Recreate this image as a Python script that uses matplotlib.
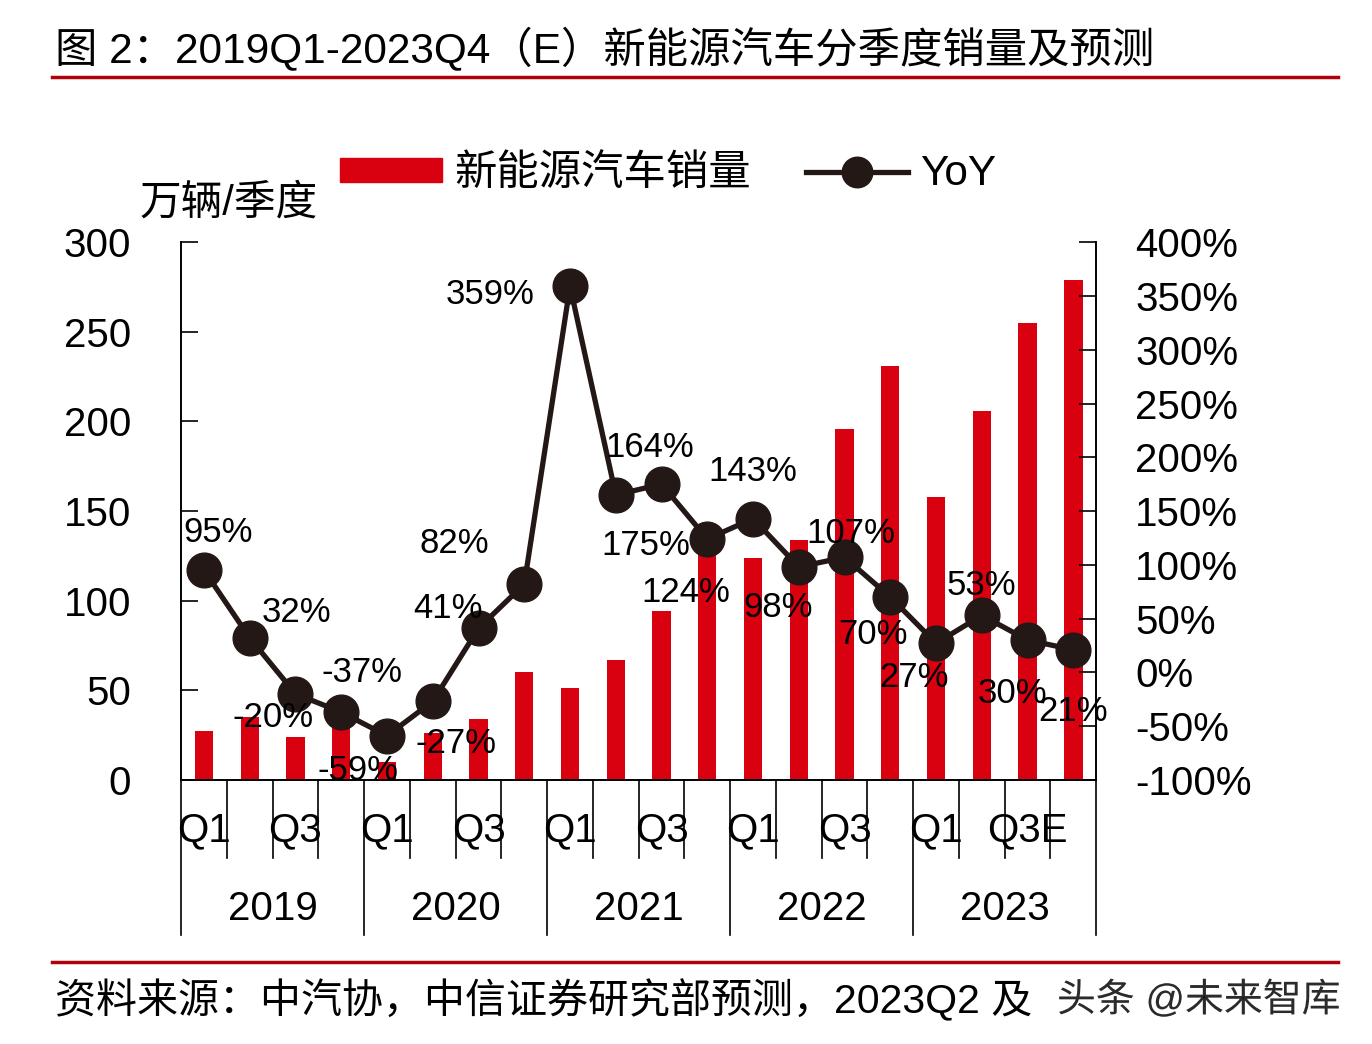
import matplotlib.pyplot as plt
import matplotlib.patheffects as pe
from matplotlib.lines import Line2D
from matplotlib.patches import Patch
import matplotlib.transforms as mtransforms

plt.rcParams['font.family'] = ['Liberation Sans', 'Noto Sans CJK SC']

years = ["2019", "2020", "2021", "2022", "2023"]
quarter_labels = ["Q1", "", "Q3", "", "Q1", "", "Q3", "", "Q1", "", "Q3", "",
                  "Q1", "", "Q3", "", "Q1", "", "Q3E", ""]
sales = [27, 35, 24, 33, 10, 26, 34, 60, 51, 67, 94, 130,
         124, 134, 196, 231, 158, 206, 255, 279]
yoy = [95, 32, -20, -37, -59, -27, 41, 82, 359, 165, 175, 124,
       143, 98, 107, 70, 27, 53, 30, 21]
yoy_labels = ["95%", "32%", "-20%", "-37%", "-59%", "-27%", "41%", "82%", "359%", "164%",
              "175%", "124%", "143%", "98%", "107%", "70%", "27%", "53%", "30%", "21%"]
# label offsets in pixels (dx, dy), dy upward
label_offsets = [(14, 38), (47, 25), (-22, -24), (21, 40), (-29, -35), (23, -42), (-31, 20),
                 (-70, 41), (-80, -8), (34, 47), (-16, -61), (-21, -54), (0, 47), (-21, -41),
                 (6, 24), (-17, -37), (-22, -34), (0, 30), (-15, -53), (0, -62)]

red = '#D9000F'
dark = '#231815'

fig = plt.figure(figsize=(13.72, 10.44), dpi=100)
ax = fig.add_axes([0.132, 0.253, 0.667, 0.515])
ax2 = ax.twinx()

x = list(range(len(sales)))
ax.bar(x, sales, width=0.4, color=red, zorder=2)
ax.set_xlim(-0.5, 19.5)
ax.set_ylim(0, 300)
ax.set_yticks(range(0, 301, 50))
ax.tick_params(axis='y', direction='in', length=12, width=1.2, labelsize=29, pad=36)
ax.set_xticks([])

ax2.plot(x, yoy, color=dark, lw=3.8, marker='o', ms=25, zorder=3)
ax2.set_ylim(-100, 400)
ax2.set_yticks(range(-100, 401, 50))
ax2.set_yticklabels([f"{v}%" for v in range(-100, 401, 50)])
ax2.tick_params(axis='y', direction='in', length=12, width=1.2, labelsize=29, pad=28)

for a in (ax, ax2):
    a.spines['top'].set_visible(False)
    for s in ('left', 'right', 'bottom'):
        a.spines[s].set_linewidth(1.2)

for i, (v, lab) in enumerate(zip(yoy, yoy_labels)):
    dx, dy = label_offsets[i]
    ax2.annotate(lab, (i, v), xytext=(dx, dy), textcoords='offset pixels',
                 ha='center', va='center', fontsize=25, color='black', zorder=4)

# category axis below
trans = mtransforms.blended_transform_factory(ax.transData, ax.transAxes)
for b in range(21):
    xb = b - 0.5
    low = -0.288 if b % 4 == 0 else -0.145
    ax.plot([xb, xb], [0, low], color='black', lw=1.2, transform=trans, clip_on=False)
for i, q in enumerate(quarter_labels):
    if q:
        ax.text(i, -0.093, q, transform=trans, ha='center', va='center', fontsize=29)
for k, y in enumerate(years):
    ax.text(4 * k + 1.5, -0.24, y, transform=trans, ha='center', va='center', fontsize=29)

ax.text(0.052, 1.072, "万辆/季度", transform=ax.transAxes, ha='center', va='center', fontsize=30)

handles = [Patch(color=red), Line2D([], [], color=dark, lw=3.8, marker='o', ms=22)]
fig.legend(handles, ["新能源汽车销量", "YoY"], ncol=2, frameon=False, loc='center',
           bbox_to_anchor=(0.487, 0.833), fontsize=30.5, handlelength=2.4, handleheight=0.5,
           handletextpad=0.3, columnspacing=1.3)

fig.text(0.040, 0.952, "图 2：2019Q1-2023Q4（E）新能源汽车分季度销量及预测", ha='left', va='center',
         fontsize=30.5)
fig.add_artist(Line2D([0.038, 0.975], [0.926, 0.926], color='#B0000C', lw=2.5))
fig.add_artist(Line2D([0.038, 0.975], [0.079, 0.079], color='#B0000C', lw=2.5))
fig.text(0.040, 0.042, "资料来源：中汽协，中信证券研究部预测，2023Q2 及", ha='left', va='center',
         fontsize=29.5)
fig.text(0.977, 0.042, "头条 @未来智库", ha='right', va='center', fontsize=28, color='black',
         alpha=0.8, path_effects=[pe.withStroke(linewidth=3, foreground='white')])

fig.savefig("out.png", dpi=100)
